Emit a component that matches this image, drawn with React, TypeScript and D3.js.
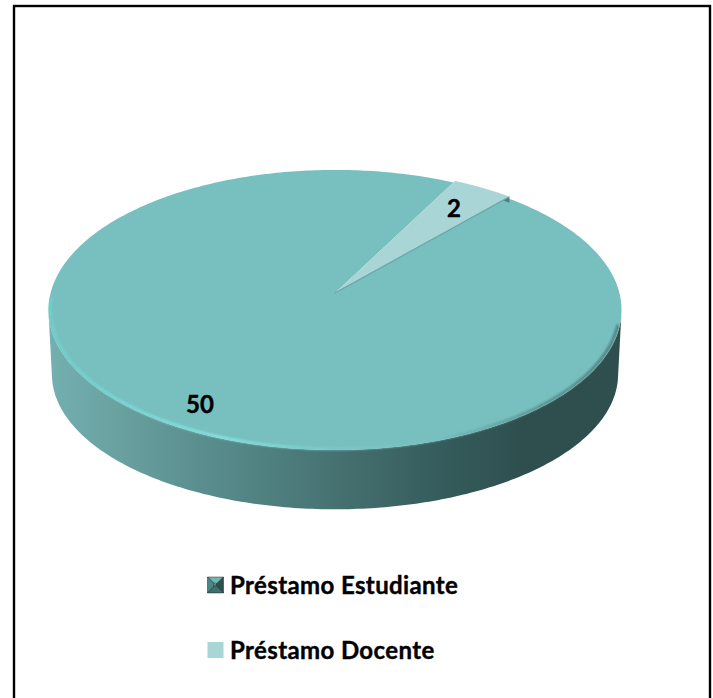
import React from "react";
import * as d3 from "d3";

const categories = ["Préstamo Estudiante", "Préstamo Docente"];
const values = [50, 2];
const colors = ["#78bfbf", "#a9d5d6"];

const W = 713;
const H = 698;
const rad = (deg: number) => (deg * Math.PI) / 180;

type Proj = { cx: number; cy: number; A: number; B: number; p: number };
const topProj: Proj = { cx: 335, cy: 293, A: 284.4, B: 138, p: 0.121 };
const baseProj: Proj = { cx: 335, cy: 358, A: 281, B: 133, p: 0.121 };

const project = (pr: Proj, r: number, a: number): [number, number] => {
  const X = r * Math.sin(a);
  const Y = r * Math.cos(a);
  const w = 1 + pr.p * Y;
  return [pr.cx + (pr.A * X) / w, pr.cy - (pr.B * Y) / w];
};

const line = d3.line<[number, number]>().curve(d3.curveLinear);
const arcPts = (pr: Proj, r: number, a0: number, a1: number, n = 160) =>
  d3.range(n + 1).map((i) => project(pr, r, a0 + ((a1 - a0) * i) / n));

const pieGen = d3
  .pie<number>()
  .sort(null)
  .startAngle(rad(41.3))
  .endAngle(rad(41.3) + Math.PI * 2);
const slices = pieGen(values);

const main = slices[0];
const small = slices[1];
const apex = project(topProj, 0, 0);
const mainPath = line([apex, ...arcPts(topProj, 1, main.startAngle, main.endAngle, 400)]) + "Z";
const smallArc = arcPts(topProj, 1.015, small.startAngle, small.endAngle, 40);
const smallPath = line([apex, ...smallArc]) + "Z";

const sideL = rad(262);
const sideR = rad(98);
const sidePath =
  line([
    ...arcPts(topProj, 1, sideR, sideL, 200),
    ...arcPts(baseProj, 1, sideL, sideR, 200),
  ]) + "Z";
const rimPath = line(arcPts(topProj, 0.993, rad(268), rad(103), 240)) ?? "";
const tipEnd = smallArc[smallArc.length - 1];
const tipSide =
  line([
    tipEnd,
    [tipEnd[0], tipEnd[1] + 6],
    [tipEnd[0] - 8, tipEnd[1] + 3],
  ]) + "Z";

const legendY = [585, 650];
const markerX = 215.5;
const markerHalf = 8;

const Marker = ({ y }: { y: number }) => {
  const s = markerHalf;
  const i = 3;
  const x = markerX;
  const face = (pts: [number, number][], fill: string) => (
    <path d={line(pts) + "Z"} fill={fill} />
  );
  return (
    <g>
      {face([[x - s, y - s], [x + s, y - s], [x, y]], "#6fb7b5")}
      {face([[x - s, y - s], [x - s, y + s], [x, y]], "#4b8585")}
      {face([[x + s, y - s], [x + s, y + s], [x, y]], "#2f4f4f")}
      {face([[x - s, y + s], [x + s, y + s], [x, y]], "#3f6f6f")}
      <rect x={x - i + 1} y={y - i + 1} width={i} height={i} fill="#5fa0a0" opacity={0.6} />
    </g>
  );
};

export default function App() {
  return (
    <svg
      width={W}
      height={H}
      viewBox={`0 0 ${W} ${H}`}
      style={{ position: "fixed", left: 0, top: 0, background: "#fff" }}
      fontFamily="Lato, sans-serif"
    >
      <defs>
        <linearGradient id="wall" gradientUnits="userSpaceOnUse" x1={48} x2={621} y1={0} y2={0}>
          <stop offset="0" stopColor="#74b0b0" />
          <stop offset="0.15" stopColor="#679d9d" />
          <stop offset="0.35" stopColor="#528484" />
          <stop offset="0.52" stopColor="#456f6f" />
          <stop offset="0.7" stopColor="#345a5a" />
          <stop offset="0.84" stopColor="#2f4e4e" />
          <stop offset="1" stopColor="#2f4e4e" />
        </linearGradient>
        <linearGradient id="rim" gradientUnits="userSpaceOnUse" x1={48} x2={621} y1={0} y2={0}>
          <stop offset="0" stopColor="#6fd0cf" />
          <stop offset="0.3" stopColor="#86e6e4" />
          <stop offset="0.5" stopColor="#7cc9c8" />
          <stop offset="0.68" stopColor="#78bfbf" />
          <stop offset="0.85" stopColor="#5a9090" />
          <stop offset="1" stopColor="#4a7878" />
        </linearGradient>
        <filter id="soft" x="-5%" y="-5%" width="110%" height="110%">
          <feGaussianBlur stdDeviation="1" />
        </filter>
      </defs>

      <rect x={14} y={6} width={696} height={702} fill="none" stroke="#000" strokeWidth={2.4} />

      <path d={sidePath} fill="url(#wall)" />
      <path d={mainPath} fill={colors[0]} />
      <path d={rimPath} fill="none" stroke="url(#rim)" strokeWidth={2.6} filter="url(#soft)" />

      <path d={tipSide} fill="#4f7f7f" />
      <path d={smallPath} fill={colors[1]} />
      <path
        d={line([apex, tipEnd]) ?? ""}
        fill="none"
        stroke="#66a5a5"
        strokeWidth={1.2}
      />

      <g stroke="#000" strokeWidth={0.4}>
        <text x={200} y={413} fontSize={24} fontWeight={700} textAnchor="middle" fill="#000">
          {values[0]}
        </text>
        <text x={454} y={217} fontSize={24} fontWeight={700} textAnchor="middle" fill="#000">
          {values[1]}
        </text>

        {categories.map((c, i) => (
          <g key={c}>
            {i === 0 ? (
              <Marker y={legendY[i]} />
            ) : (
              <rect
                x={markerX - markerHalf}
                y={legendY[i] - markerHalf}
                width={markerHalf * 2}
                height={markerHalf * 2}
                fill={colors[1]}
                stroke="none"
              />
            )}
            <text
              x={230}
              y={legendY[i] + 8.5}
              fontSize={24}
              fontWeight={700}
              fill="#000"
              letterSpacing={0.38}
            >
              {c}
            </text>
          </g>
        ))}
      </g>
    </svg>
  );
}
